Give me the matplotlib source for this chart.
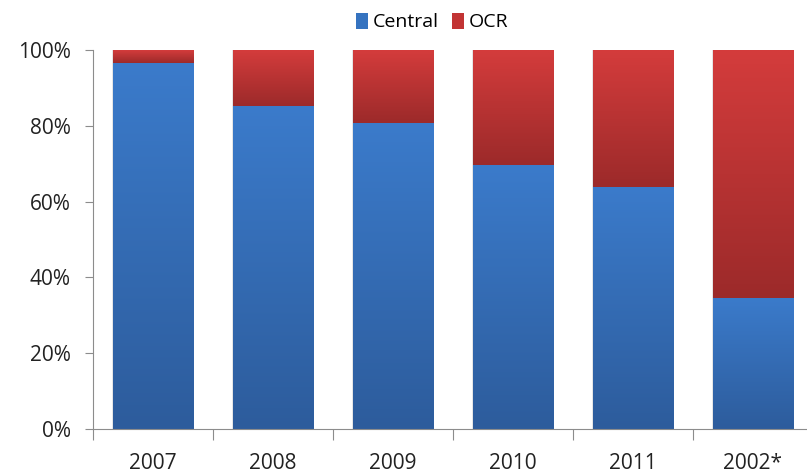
import numpy as np
import matplotlib
matplotlib.use("Agg")
import matplotlib.pyplot as plt
from matplotlib.colors import LinearSegmentedColormap
from matplotlib.patches import Patch

years = ["2007", "2008", "2009", "2010", "2011", "2002*"]
central = [96.6, 85.3, 80.8, 69.7, 63.9, 34.6]
ocr = [100 - c for c in central]
yticks = [0, 20, 40, 60, 80, 100]

plt.rcParams['font.family'] = ['Open Sans', 'DejaVu Sans']

fig = plt.figure(figsize=(8.07, 4.73), dpi=100)
ax = fig.add_axes([93 / 807, 44 / 473, 720 / 807, 379 / 473])

x = np.arange(len(years))
width = 0.67

blueMap = LinearSegmentedColormap.from_list("b", ["#2d5c9c", "#3b7bcb"])
redMap = LinearSegmentedColormap.from_list("r", ["#9c2a2a", "#d43c3c"])
grad = np.linspace(0, 1, 256).reshape(-1, 1)

def gradBar(ax, xc, bottom, h, cmap):
    # faint shadow then the gradient body
    ax.add_patch(plt.Rectangle((xc - width / 2 - 0.01, bottom), width + 0.02, h,
                               color="#e6e6e6", zorder=1, lw=0))
    ax.imshow(grad, cmap=cmap, origin="lower", aspect="auto", zorder=2,
              extent=(xc - width / 2, xc + width / 2, bottom, bottom + h))

for i in range(len(years)):
    gradBar(ax, x[i], 0, central[i], blueMap)
    gradBar(ax, x[i], central[i], ocr[i], redMap)

ax.set_xlim(-0.5, len(years) - 0.5)
ax.set_ylim(0, 100)

for s in ["top", "right"]:
    ax.spines[s].set_visible(False)
ax.spines["left"].set_color("#8c8c8c")
ax.spines["bottom"].set_color("#8c8c8c")

ax.set_yticks(yticks)
ax.set_yticklabels([str(t) + "%" for t in yticks], fontsize=15, color="#222222")
ax.tick_params(axis="y", length=6, color="#8c8c8c", pad=10)

ax.set_xticks(np.arange(len(years) + 1) - 0.5, minor=False)
ax.set_xticklabels([])
ax.set_xticks(x, minor=True)
ax.set_xticklabels(years, minor=True, fontsize=15, color="#222222")
ax.tick_params(axis="x", which="major", length=8, color="#8c8c8c")
ax.tick_params(axis="x", which="minor", length=0, pad=17)

handles = [Patch(facecolor="#3573c0", label="Central"),
           Patch(facecolor="#c23434", label="OCR")]
fig.legend(handles=handles, loc="center", bbox_to_anchor=(432 / 807, 1 - 22 / 473),
           ncol=2, frameon=False, fontsize=14, handlelength=0.6, handleheight=0.9,
           handletextpad=0.25, columnspacing=0.7)

fig.savefig("out.png", dpi=100)
